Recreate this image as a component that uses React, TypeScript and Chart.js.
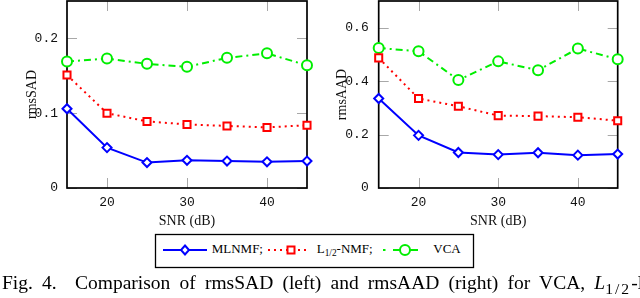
import React, { useEffect, useRef } from "react";
import { Chart, registerables } from "chart.js";

Chart.register(...registerables);

// ---- data ----
const snr = [15, 20, 25, 30, 35, 40, 45];
const sadMLNMF = [0.106, 0.054, 0.034, 0.037, 0.036, 0.035, 0.036];
const sadL12 = [0.151, 0.1, 0.089, 0.085, 0.083, 0.081, 0.084];
const sadVCA = [0.169, 0.173, 0.166, 0.162, 0.174, 0.18, 0.164];
const aadMLNMF = [0.335, 0.197, 0.133, 0.125, 0.132, 0.123, 0.127];
const aadL12 = [0.487, 0.335, 0.306, 0.271, 0.269, 0.265, 0.252];
const aadVCA = [0.524, 0.512, 0.404, 0.474, 0.441, 0.522, 0.482];
const xTicks = [20, 30, 40];
const sadTicks = [0, 0.1, 0.2];
const aadTicks = [0, 0.2, 0.4, 0.6];
const seriesNames = ["MLNMF", "L1/2-NMF", "VCA"];

const BLUE = "#0000ff";
const RED = "#ff0000";
const GREEN = "#00ee00";

const framePlugin = {
  id: "frame",
  beforeDatasetsDraw(chart: any) {
    const { ctx, chartArea, scales } = chart;
    const { left, right, top, bottom } = chartArea;
    const L = 10;
    ctx.save();
    ctx.strokeStyle = "#a8a8a8";
    ctx.lineWidth = 1;
    scales.x.ticks.forEach((t: any) => {
      const px = Math.round(scales.x.getPixelForValue(t.value)) + 0.5;
      ctx.beginPath();
      ctx.moveTo(px, bottom);
      ctx.lineTo(px, bottom - L);
      ctx.moveTo(px, top);
      ctx.lineTo(px, top + L);
      ctx.stroke();
    });
    scales.y.ticks.forEach((t: any) => {
      const py = Math.round(scales.y.getPixelForValue(t.value)) + 0.5;
      ctx.beginPath();
      ctx.moveTo(left, py);
      ctx.lineTo(left + L, py);
      ctx.moveTo(right, py);
      ctx.lineTo(right - L, py);
      ctx.stroke();
    });
    ctx.strokeStyle = "#000";
    ctx.lineWidth = 1.7;
    ctx.strokeRect(left, top, right - left, bottom - top);
    ctx.restore();
  },
};

function makeDatasets(a: number[], b: number[], c: number[]) {
  const pts = (arr: number[]) => snr.map((x, i) => ({ x, y: arr[i] }));
  return [
    {
      label: seriesNames[0],
      data: pts(a),
      borderColor: BLUE,
      borderWidth: 2,
      pointStyle: "rectRot",
      pointRadius: 4.5,
      pointBorderWidth: 2,
      pointBorderColor: BLUE,
      pointBackgroundColor: "#ffffff",
      clip: false,
    },
    {
      label: seriesNames[1],
      data: pts(b),
      borderColor: RED,
      borderWidth: 2,
      borderDash: [2, 4],
      pointStyle: "rect",
      pointRadius: 5,
      pointBorderWidth: 2,
      pointBorderColor: RED,
      pointBackgroundColor: "#ffffff",
      clip: false,
    },
    {
      label: seriesNames[2],
      data: pts(c),
      borderColor: GREEN,
      borderWidth: 2,
      borderDash: [7, 4, 2, 4],
      pointStyle: "circle",
      pointRadius: 5,
      pointBorderWidth: 2,
      pointBorderColor: GREEN,
      pointBackgroundColor: "#ffffff",
      clip: false,
    },
  ];
}

function zeroPad(s: any) {
  s.paddingLeft = 0;
  s.paddingRight = 0;
  s.paddingTop = 0;
  s.paddingBottom = 0;
}

function makeOptions(
  yMax: number,
  yTicks: number[],
  yTitle: string,
  yWidth: number,
  yTitlePad: number,
  yLabelPad: number,
  rightPad: number
) {
  return {
    responsive: false,
    animation: false,
    devicePixelRatio: 1,
    layout: { autoPadding: false, padding: { left: 0, right: rightPad, top: 1, bottom: 0 } },
    plugins: { legend: { display: false }, tooltip: { enabled: false } },
    elements: { line: { tension: 0 } },
    scales: {
      x: {
        type: "linear",
        min: 15,
        max: 45,
        afterBuildTicks: (s: any) => {
          s.ticks = xTicks.map((v) => ({ value: v }));
        },
        afterFit: (s: any) => {
          s.height = 44;
          zeroPad(s);
        },
        grid: { display: false, drawTicks: false },
        border: { display: false },
        ticks: {
          padding: 7,
          color: "#111",
          font: { family: "Liberation Mono", size: 13 },
          callback: (v: any) => String(v),
        },
        title: {
          display: true,
          text: "SNR (dB)",
          color: "#111",
          font: { family: "Liberation Serif", size: 14 },
          padding: { top: 0, bottom: 2.6 },
        },
      },
      y: {
        type: "linear",
        min: 0,
        max: yMax,
        afterBuildTicks: (s: any) => {
          s.ticks = yTicks.map((v) => ({ value: v }));
        },
        afterFit: (s: any) => {
          s.width = yWidth;
          zeroPad(s);
        },
        grid: { display: false, drawTicks: false },
        border: { display: false },
        ticks: {
          padding: yLabelPad,
          color: "#111",
          font: { family: "Liberation Mono", size: 13 },
          callback: (v: any) => String(v),
        },
        title: {
          display: true,
          text: yTitle,
          color: "#111",
          font: { family: "Liberation Serif", size: 14 },
          padding: { top: yTitlePad, bottom: 0 },
        },
      },
    },
  };
}

function Panel(props: {
  left: number;
  a: number[];
  b: number[];
  c: number[];
  yMax: number;
  yTicks: number[];
  yTitle: string;
  yWidth: number;
  yTitlePad: number;
  yLabelPad: number;
  rightPad: number;
}) {
  const ref = useRef<HTMLCanvasElement | null>(null);
  useEffect(() => {
    if (!ref.current) return;
    const chart = new Chart(ref.current, {
      type: "line",
      data: { datasets: makeDatasets(props.a, props.b, props.c) as any },
      options: makeOptions(
        props.yMax,
        props.yTicks,
        props.yTitle,
        props.yWidth,
        props.yTitlePad,
        props.yLabelPad,
        props.rightPad
      ) as any,
      plugins: [framePlugin],
    });
    return () => chart.destroy();
  }, []);
  return (
    <canvas
      ref={ref}
      width={320}
      height={232}
      style={{ position: "absolute", left: props.left, top: 0, width: 320, height: 232, display: "block" }}
    />
  );
}

const serif = "'Liberation Serif', 'Times New Roman', serif";

function Legend() {
  const textStyle: React.CSSProperties = {
    position: "absolute",
    top: 242.4,
    fontFamily: serif,
    fontSize: 13,
    lineHeight: "13px",
    whiteSpace: "pre",
    color: "#000",
  };
  const sub: React.CSSProperties = { fontSize: "0.72em", verticalAlign: "-0.3em", lineHeight: 0 };
  return (
    <>
      <svg
        width={640}
        height={298}
        style={{ position: "absolute", left: 0, top: 0, pointerEvents: "none" }}
      >
        <rect x={155.5} y={234.5} width={318} height={33} fill="white" stroke="#000" strokeWidth={1.3} />
        <line x1={163} y1={250} x2={207} y2={250} stroke={BLUE} strokeWidth={2} />
        <polygon points="185,245.5 189,250 185,254.5 181,250" fill="white" stroke={BLUE} strokeWidth={2} />
        <line x1={268} y1={250} x2={308} y2={250} stroke={RED} strokeWidth={2} strokeDasharray="2 4" />
        <rect x={287.5} y={246.5} width={7} height={7} fill="white" stroke={RED} strokeWidth={2} />
        <line x1={383} y1={250} x2={385.5} y2={250} stroke={GREEN} strokeWidth={2} />
        <line x1={393} y1={250} x2={418} y2={250} stroke={GREEN} strokeWidth={2} />
        <circle cx={405} cy={250} r={5} fill="white" stroke={GREEN} strokeWidth={2} />
      </svg>
      <div style={{ ...textStyle, left: 211.7 }}>MLNMF;</div>
      <div style={{ ...textStyle, left: 316.7 }}>
        L<span style={sub}>1/2</span>-NMF;
      </div>
      <div style={{ ...textStyle, left: 433.3 }}>VCA</div>
    </>
  );
}

function Caption() {
  return (
    <div
      style={{
        position: "absolute",
        left: 2,
        top: 272.5,
        fontFamily: serif,
        fontSize: 19.5,
        lineHeight: "19.5px",
        whiteSpace: "pre",
        wordSpacing: 4.3,
        color: "#000",
      }}
    >
      {"Fig. 4.  Comparison of rmsSAD (left) and rmsAAD (right) for VCA, "}
      <i>L</i>
      <span style={{ fontSize: "0.8em", letterSpacing: 2, verticalAlign: "-0.3em", lineHeight: 0 }}>1/2</span>
      {"-NMF"}
    </div>
  );
}

export default function App() {
  return (
    <div
      style={{
        position: "absolute",
        left: 0,
        top: 0,
        width: 640,
        height: 298,
        overflow: "hidden",
        background: "#fff",
      }}
    >
      <Panel
        left={0}
        a={sadMLNMF}
        b={sadL12}
        c={sadVCA}
        yMax={0.25}
        yTicks={sadTicks}
        yTitle="rmsSAD"
        yWidth={67}
        yTitlePad={23.6}
        yLabelPad={9}
        rightPad={13}
      />
      <Panel
        left={320}
        a={aadMLNMF}
        b={aadL12}
        c={aadVCA}
        yMax={0.7}
        yTicks={aadTicks}
        yTitle="rmsAAD"
        yWidth={58.7}
        yTitlePad={14.1}
        yLabelPad={10}
        rightPad={22.3}
      />
      <Legend />
      <Caption />
    </div>
  );
}
